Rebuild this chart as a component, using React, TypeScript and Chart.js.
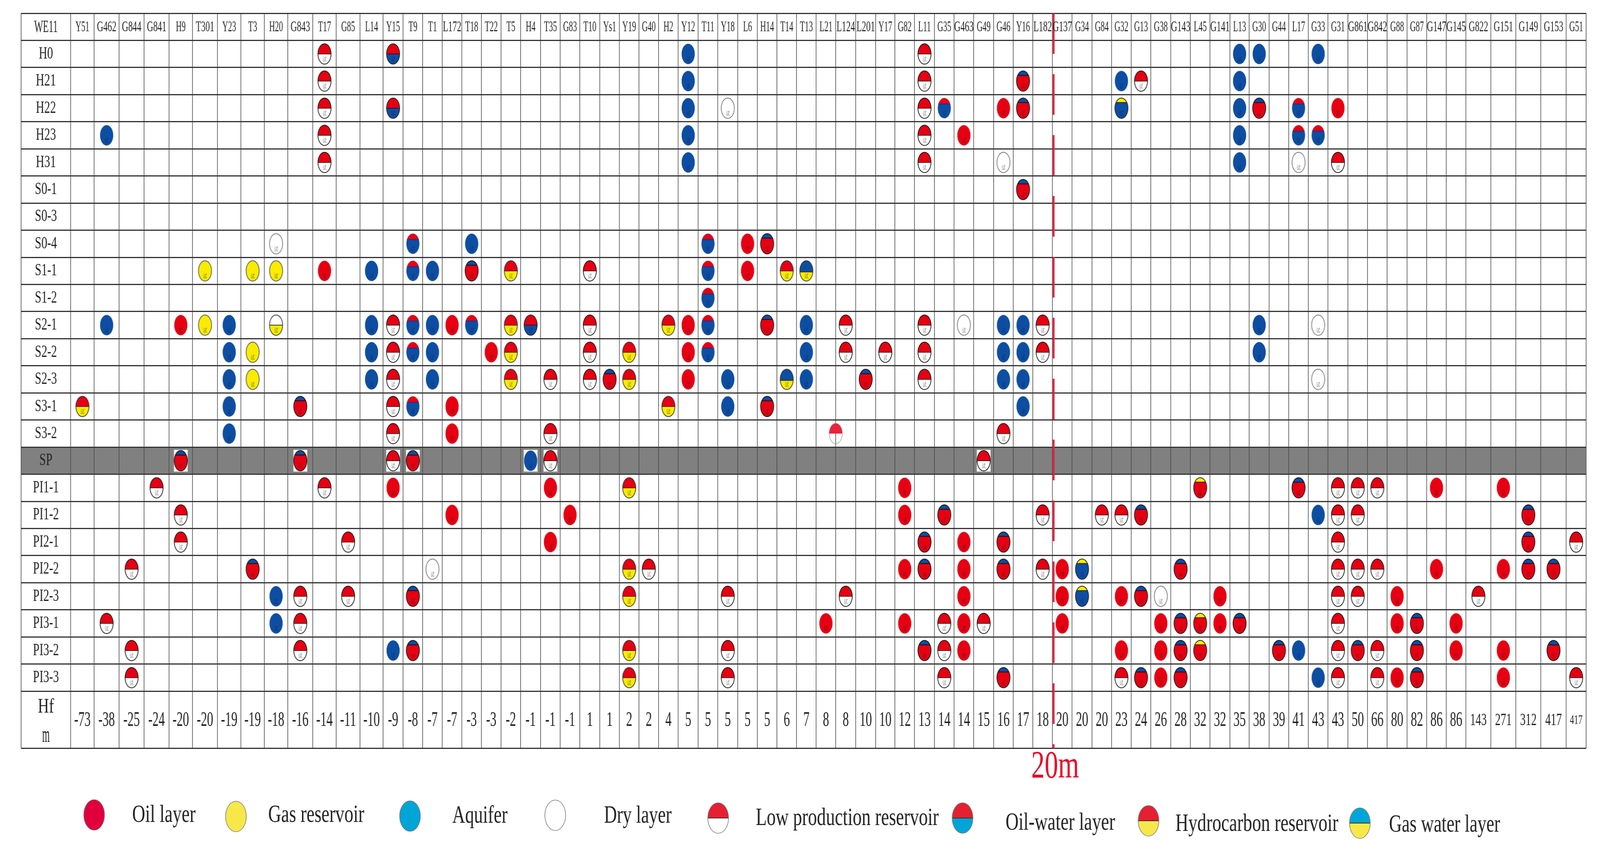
import { useEffect, useRef } from "react"
import { Chart, registerables } from "chart.js"

Chart.register(...registerables)

// table headers
const wells = [
  "Y51", "G462", "G844", "G841", "H9", "T301", "Y23", "T3", "H20", "G843", "T17", "G85", "L14", "Y15", "T9", "T1",
  "L172", "T18", "T22", "T5", "H4", "T35", "G83", "T10", "Ys1", "Y19", "G40", "H2", "Y12", "T11", "Y18", "L6", "H14",
  "T14", "T13", "L21", "L124", "L201", "Y17", "G82", "L11", "G35", "G463", "G49", "G46", "Y16", "L182", "G137", "G34",
  "G84", "G32", "G13", "G38", "G143", "L45", "G141", "L13", "G30", "G44", "L17", "G33", "G31", "G861", "G842", "G88",
  "G87", "G147", "G145", "G822", "G151", "G149", "G153", "G51",
]
const layers = [
  "H0", "H21", "H22", "H23", "H31", "S0-1", "S0-3", "S0-4", "S1-1", "S1-2", "S2-1", "S2-2", "S2-3", "S3-1", "S3-2",
  "SP", "PI1-1", "PI1-2", "PI2-1", "PI2-2", "PI2-3", "PI3-1", "PI3-2", "PI3-3",
]
const hfValues = [
  -73, -38, -25, -24, -20, -20, -19, -19, -18, -16, -14, -11, -10, -9, -8, -7, -7, -3, -3, -2, -1, -1, -1, 1, 1, 2, 2, 4,
  5, 5, 5, 5, 5, 6, 7, 8, 8, 10, 10, 12, 13, 14, 14, 15, 16, 17, 18, 20, 20, 20, 23, 24, 26, 28, 32, 32, 35, 38, 39, 41,
  43, 43, 50, 66, 80, 82, 86, 86, 143, 271, 312, 417, 417,
]

// one array per symbol: [layer, wells in that layer]
const oilLayer = [
  ["H22", "G46 G31"], ["H23", "G463"], ["S0-4", "L6"], ["S1-1", "T17 L6"], ["S2-1", "H9 L172 Y12"], ["S2-2", "T22 Y12"],
  ["S2-3", "Y12"], ["S3-1", "L172"], ["S3-2", "L172"], ["PI1-1", "Y15 T35 G82 G147 G151"], ["PI1-2", "L172 G83 G82"],
  ["PI2-1", "T35 G463"], ["PI2-2", "G82 G463 G137 G147 G151"], ["PI2-3", "G463 G137 G32 G141 G88"],
  ["PI3-1", "L21 G82 G463 G137 G38 G141 G88 G145"], ["PI3-2", "G463 G32 G38 G145 G151"], ["PI3-3", "G38 G88 G151"],
]
const gasReservoir = [["S1-1", "T301 T3 H20"], ["S2-1", "T301"], ["S2-2", "T3"], ["S2-3", "T3"]]
const aquifer = [
  ["H0", "Y12 L13 G30 G33"], ["H21", "Y12 G32 L13"], ["H22", "Y12 L13"], ["H23", "G462 Y12 L13"], ["H31", "Y12 L13"],
  ["S0-4", "T18"], ["S1-1", "L14 T1"], ["S2-1", "G462 Y23 L14 T1 T13 G46 Y16 G30"], ["S2-2", "Y23 L14 T1 T13 G46 Y16 G30"],
  ["S2-3", "Y23 L14 T1 Y18 T13 G46 Y16"], ["S3-1", "Y23 Y18 Y16"], ["S3-2", "Y23"], ["SP", "H4"], ["PI1-2", "G33"],
  ["PI2-3", "H20"], ["PI3-1", "H20"], ["PI3-2", "Y15 L17"], ["PI3-3", "G33"],
]
const dryLayer = [
  ["H22", "Y18"], ["H31", "G46 L17"], ["S0-4", "H20"], ["S2-1", "G463 G33"], ["S2-3", "G33"], ["PI2-2", "T1"], ["PI2-3", "G38"],
]
const lowProduction = [
  ["H0", "T17 L11"], ["H21", "T17 L11 G13"], ["H22", "T17 L11"], ["H23", "T17 L11"], ["H31", "T17 L11 G31"], ["S1-1", "T10"],
  ["S2-1", "Y15 T10 L124 L11 L182"], ["S2-2", "Y15 T10 L124 Y17 L11 L182"], ["S2-3", "Y15 T35 T10 L11"], ["S3-1", "Y15"],
  ["S3-2", "Y15 T35 G46"], ["SP", "Y15 T35 G49"], ["PI1-1", "G841 T17 G31 G861 G842"], ["PI1-2", "H9 L182 G84 G32 G31 G861"],
  ["PI2-1", "H9 G85 G31 G51"], ["PI2-2", "G844 G40 L182 G31 G861 G842"], ["PI2-3", "G843 G85 Y18 L124 G31 G861 G822"],
  ["PI3-1", "G462 G843 G35 G49 G31"], ["PI3-2", "G844 G843 Y18 G35 G31 G842"], ["PI3-3", "G844 Y18 G35 G32 G31 G842 G51"],
]
const oilWaterLayer = [["H0", "Y15"], ["H22", "Y15"], ["S2-1", "H4"]]
const oilCapWater = [
  ["H22", "G35 L17"], ["H23", "L17 G33"], ["S0-4", "T9 T11"], ["S1-1", "T9 T11"], ["S1-2", "T11"], ["S2-1", "T9 T18 T11"],
  ["S2-2", "T9 T11"], ["S3-1", "T9"],
]
const hydrocarbonReservoir = [
  ["S1-1", "T5 T14"], ["S2-1", "T5 H2"], ["S2-2", "T5 Y19"], ["S2-3", "T5 Y19"], ["S3-1", "Y51 H2"], ["PI1-1", "Y19"],
  ["PI2-2", "Y19"], ["PI2-3", "Y19"], ["PI3-2", "Y19"], ["PI3-3", "Y19"],
]
const gasWaterLayer = [["S1-1", "T13"], ["S2-3", "T14"]]
const waterCapOil = [
  ["H21", "Y16"], ["H22", "Y16 G30"], ["S0-1", "Y16"], ["S0-4", "H14"], ["S1-1", "T18"], ["S2-1", "H14"], ["S2-3", "Ys1 L201"],
  ["S3-1", "G843 H14"], ["SP", "H9 G843 T9"], ["PI1-1", "L17"], ["PI1-2", "G35 G13 G149"], ["PI2-1", "L11 G46 G149"],
  ["PI2-2", "T3 L11 G46 G143 G149 G153"], ["PI2-3", "T9 G13"], ["PI3-1", "G143 L13 G87"],
  ["PI3-2", "T9 L11 G143 G44 G861 G87 G153"], ["PI3-3", "G46 G13 G143 G87"],
]
const gasCapWater = [["H22", "G32"], ["PI2-2", "G34"], ["PI2-3", "G34"]]
const gasCapOil = [["PI1-1", "L45"], ["PI3-1", "L45"], ["PI3-2", "L45"]]
const dryOverGas = [["S2-1", "H20"]]
const lowOnBoundary = [["S3-2", "L124"]] // sits on the left edge of the well column

const legendLabels = [
  "Oil layer", "Gas reservoir", "Aquifer", "Dry layer", "Low production reservoir", "Oil-water layer",
  "Hydrocarbon reservoir", "Gas water layer",
]
const cutoffWell = "G137"
const cutoffLabel = "20m"

// layout, in canvas pixels
const WIDTH = 4164
const HEIGHT = 2182
const labelColumn = 129
const columnWidths = [
  61, 65, 65, 65, 61, 65, 61, 61, 61, 65, 61, 62, 60, 52, 51, 51, 51, 51, 51, 51, 52, 51, 51, 52, 51, 51, 51, 51, 52, 51,
  52, 51, 51, 51, 51, 51, 52, 52, 50, 51, 52, 51, 51, 52, 51, 51, 51, 51, 52, 51, 51, 51, 52, 51, 51, 52, 50, 52, 51, 51,
  51, 52, 51, 51, 52, 51, 51, 51, 65, 65, 65, 66, 52,
]
const footerRows = 2.1
const columnEdges = columnWidths.reduce((edges, w) => [...edges, edges[edges.length - 1] + w], [0])
const columnCenter = (well) => {
  const i = wells.indexOf(well)
  return (columnEdges[i] + columnEdges[i + 1]) / 2
}
const rowCenter = (layer) => layers.indexOf(layer) + 0.5

const legendLayout = [
  { mark: 245, markY: 2087, left: 344, width: 165, y: 2088 },
  { mark: 614, markY: 2091, left: 698, width: 250, y: 2088 },
  { mark: 1067, markY: 2090, left: 1177, width: 144, y: 2090 },
  { mark: 1445, markY: 2088, left: 1572, width: 176, y: 2090 },
  { mark: 1869, markY: 2095, left: 1967, width: 476, y: 2096 },
  { mark: 2505, markY: 2095, left: 2617, width: 285, y: 2108 },
  { mark: 2989, markY: 2102, left: 3059, width: 424, y: 2111 },
  { mark: 3539, markY: 2108, left: 3615, width: 289, y: 2113 },
]

const RED = "#e60012"
const BLUE = "#0d4ea3"
const YELLOW = "#f9ec00"
const WHITE = "#ffffff"
const marks = {
  oil: { top: RED, bottom: RED, split: 1 },
  gas: { top: YELLOW, bottom: YELLOW, split: 1, outline: "#555" },
  water: { top: BLUE, bottom: BLUE, split: 1 },
  dry: { top: WHITE, bottom: WHITE, split: 1, outline: "#777" },
  low: { top: RED, bottom: WHITE, split: 0.5, outline: "#111", divider: "#5a1010" },
  oilWater: { top: RED, bottom: BLUE, split: 0.5, outline: "#222", divider: "#301040" },
  oilCapWater: { top: RED, bottom: BLUE, split: 0.3, divider: "#1c2f90" },
  hydro: { top: RED, bottom: YELLOW, split: 0.5, outline: "#333", divider: "#5a1010" },
  gasWater: { top: BLUE, bottom: YELLOW, split: 0.55, outline: "#333", divider: "#223" },
  waterCapOil: { top: BLUE, bottom: RED, split: 0.22, outline: "#111", divider: "#111" },
  gasCapWater: { top: YELLOW, bottom: BLUE, split: 0.22, outline: "#222", divider: "#222" },
  gasCapOil: { top: YELLOW, bottom: RED, split: 0.22, outline: "#222", divider: "#400" },
  dryOverGas: { top: WHITE, bottom: YELLOW, split: 0.5, outline: "#333", divider: "#332" },
}
const legendMarks = [
  { top: "#e2003c", bottom: "#e2003c", split: 1 },
  { top: "#f7e84a", bottom: "#f7e84a", split: 1 },
  { top: "#00a5d8", bottom: "#00a5d8", split: 1 },
  { top: WHITE, bottom: WHITE, split: 1 },
  { top: "#e52032", bottom: WHITE, split: 0.5, divider: "#333" },
  { top: "#e52032", bottom: "#00a5d8", split: 0.5, divider: "#333" },
  { top: "#e52032", bottom: "#f7e84a", split: 0.5, divider: "#333" },
  { top: "#00a5d8", bottom: "#f7e84a", split: 0.5, divider: "#333" },
]

const seriesList = [
  { label: "Oil layer", cells: oilLayer, mark: "oil" },
  { label: "Gas reservoir", cells: gasReservoir, mark: "gas" },
  { label: "Aquifer", cells: aquifer, mark: "water" },
  { label: "Dry layer", cells: dryLayer, mark: "dry" },
  { label: "Low production reservoir", cells: lowProduction, mark: "low" },
  { label: "Oil-water layer", cells: oilWaterLayer, mark: "oilWater" },
  { label: "Oil-water layer (thin oil)", cells: oilCapWater, mark: "oilCapWater" },
  { label: "Hydrocarbon reservoir", cells: hydrocarbonReservoir, mark: "hydro" },
  { label: "Gas water layer", cells: gasWaterLayer, mark: "gasWater" },
  { label: "Water over oil", cells: waterCapOil, mark: "waterCapOil" },
  { label: "Gas over water", cells: gasCapWater, mark: "gasCapWater" },
  { label: "Gas over oil", cells: gasCapOil, mark: "gasCapOil" },
  { label: "Dry over gas", cells: dryOverGas, mark: "dryOverGas" },
]

function paintEllipse(ctx, cx, cy, rx, ry, spec, glyph) {
  ctx.save()
  ctx.beginPath()
  ctx.ellipse(cx, cy, rx, ry, 0, 0, Math.PI * 2)
  ctx.save()
  ctx.clip()
  const splitY = cy - ry + 2 * ry * spec.split
  ctx.fillStyle = spec.bottom
  ctx.fillRect(cx - rx, cy - ry, 2 * rx, 2 * ry)
  ctx.fillStyle = spec.top
  ctx.fillRect(cx - rx, cy - ry, 2 * rx, splitY - cy + ry)
  if (spec.divider) {
    ctx.fillStyle = spec.divider
    ctx.fillRect(cx - rx, splitY - 1, 2 * rx, 2)
  }
  if (glyph) {
    ctx.translate(cx, cy + ry * 0.48)
    ctx.scale(0.8, 1.05)
    ctx.fillStyle = "rgba(30,30,40,0.55)"
    ctx.font = '13px "Noto Sans CJK SC"'
    ctx.textAlign = "center"
    ctx.textBaseline = "middle"
    ctx.fillText(glyph, 0, 0)
  }
  ctx.restore()
  if (spec.outline) {
    ctx.strokeStyle = spec.outline
    ctx.lineWidth = 1.8
    ctx.stroke()
  }
  ctx.restore()
}

function makeSprite(spec, boxed) {
  const c = document.createElement("canvas")
  c.width = 40
  c.height = 60
  const ctx = c.getContext("2d")
  if (boxed) {
    ctx.fillStyle = "#f4f4f4"
    ctx.fillRect(2, 2, 36, 56)
  }
  paintEllipse(ctx, 20, 30, 17, 26, spec, "试")
  return c
}

function paleSprite() {
  const c = document.createElement("canvas")
  c.width = 40
  c.height = 60
  const ctx = c.getContext("2d")
  ctx.beginPath()
  ctx.ellipse(20, 30, 17, 26, 0, 0, Math.PI * 2)
  ctx.strokeStyle = "#999"
  ctx.lineWidth = 1.4
  ctx.stroke()
  ctx.save()
  ctx.clip()
  ctx.fillStyle = "#e8233c"
  ctx.fillRect(0, 0, 40, 30)
  ctx.restore()
  return c
}

function squeezedText(ctx, text, x, y, size, scaleX) {
  ctx.save()
  ctx.translate(x, y)
  ctx.scale(scaleX, 1)
  ctx.font = `${size}px "Liberation Serif"`
  ctx.textAlign = "center"
  ctx.textBaseline = "middle"
  ctx.fillText(text, 0, 0)
  ctx.restore()
}

function fittedText(ctx, text, left, y, size, width) {
  ctx.save()
  ctx.font = `${size}px "Liberation Serif"`
  const natural = ctx.measureText(text).width
  ctx.translate(left, y)
  ctx.scale(width / natural, 1)
  ctx.textAlign = "left"
  ctx.textBaseline = "middle"
  ctx.fillText(text, 0, 0)
  ctx.restore()
}

const bandPlugin = {
  id: "spBand",
  beforeDraw(chart) {
    const { ctx, chartArea, scales } = chart
    const row = layers.indexOf("SP")
    const top = scales.y.getPixelForValue(row)
    const bottom = scales.y.getPixelForValue(row + 1)
    ctx.save()
    ctx.fillStyle = "#808080"
    ctx.fillRect(chartArea.left, top, chartArea.width, bottom - top)
    ctx.restore()
  },
}

const tableTextPlugin = {
  id: "tableText",
  afterDraw(chart) {
    const { ctx, scales } = chart
    const xs = scales.x
    const ys = scales.y
    ctx.save()
    ctx.fillStyle = "#222"

    // header row
    const headerY = ys.getPixelForValue(-0.48)
    squeezedText(ctx, "WE11", xs.getPixelForValue(-labelColumn / 2), headerY, 45, 0.54)
    wells.forEach((well) => {
      squeezedText(ctx, well, xs.getPixelForValue(columnCenter(well)), headerY, 38, well.length > 3 ? 0.6 : 0.55)
    })

    // layer names
    layers.forEach((layer) => {
      squeezedText(ctx, layer, xs.getPixelForValue(-labelColumn / 2), ys.getPixelForValue(rowCenter(layer)), 44, 0.69)
    })

    // Hf row
    const hfRow = layers.length
    squeezedText(ctx, "Hf", xs.getPixelForValue(-labelColumn / 2), ys.getPixelForValue(hfRow + 0.59), 52, 0.77)
    squeezedText(ctx, "m", xs.getPixelForValue(-labelColumn / 2), ys.getPixelForValue(hfRow + 1.65), 60, 0.42)
    hfValues.forEach((value, i) => {
      const center = (columnEdges[i] + columnEdges[i + 1]) / 2
      const wide = Math.abs(value) >= 100
      const size = i === hfValues.length - 1 ? 34 : wide ? 44 : 52
      squeezedText(ctx, String(value), xs.getPixelForValue(center), ys.getPixelForValue(hfRow + 1.08), size, wide ? 0.65 : 0.62)
    })

    // cutoff label under the table
    ctx.fillStyle = "#e60a28"
    squeezedText(ctx, cutoffLabel, xs.getPixelForValue(columnEdges[wells.indexOf(cutoffWell)]) + 7, 1965, 100, 0.7)

    // legend
    legendLabels.forEach((label, i) => {
      const item = legendLayout[i]
      const spec = legendMarks[i]
      paintEllipse(ctx, item.mark, item.markY, 27, 39, spec)
      ctx.beginPath()
      ctx.ellipse(item.mark, item.markY, 27, 39, 0, 0, Math.PI * 2)
      ctx.strokeStyle = "#777"
      ctx.lineWidth = 1.5
      ctx.stroke()
      ctx.fillStyle = "#222"
      fittedText(ctx, label, item.left, item.y, 64, item.width)
    })
    ctx.restore()
  },
}

export default function App() {
  const canvasRef = useRef<HTMLCanvasElement | null>(null)

  useEffect(() => {
    document.body.style.margin = "0"
    document.documentElement.style.overflow = "hidden"
    const ctx = canvasRef.current?.getContext("2d")
    if (!ctx) return

    const datasets: any[] = seriesList.map(({ label, cells, mark }) => {
      const data = cells.flatMap(([layer, names]) =>
        names.split(" ").map((well) => ({ x: columnCenter(well), y: rowCenter(layer), layer })),
      )
      const plain = makeSprite(marks[mark], false)
      const boxed = makeSprite(marks[mark], true)
      return {
        type: "scatter",
        label,
        data,
        pointRadius: 10,
        pointStyle: data.map((p) => (p.layer === "SP" ? boxed : plain)),
      }
    })

    datasets.push({
      type: "scatter",
      label: "Low production reservoir (boundary)",
      data: lowOnBoundary.map(([layer, well]) => ({ x: columnEdges[wells.indexOf(well)], y: rowCenter(layer) })),
      pointRadius: 10,
      pointStyle: paleSprite(),
    })

    const cutoffX = columnEdges[wells.indexOf(cutoffWell)] + 3
    datasets.push({
      type: "line",
      label: cutoffLabel,
      data: [
        { x: cutoffX, y: -1 },
        { x: cutoffX, y: layers.length + footerRows },
      ],
      borderColor: "#e8203c",
      borderWidth: 5,
      borderDash: [104, 52],
      pointRadius: 0,
      clip: false,
      order: -1,
    })

    const chart = new Chart(ctx, {
      type: "scatter",
      data: { datasets },
      plugins: [bandPlugin, tableTextPlugin],
      options: {
        animation: false,
        responsive: false,
        devicePixelRatio: 1,
        events: [],
        layout: { padding: { left: 55, right: 36, top: 34, bottom: 266 } },
        plugins: { legend: { display: false }, tooltip: { enabled: false } },
        scales: {
          x: {
            type: "linear",
            min: -labelColumn,
            max: columnEdges[columnEdges.length - 1],
            afterBuildTicks: (axis) => {
              axis.ticks = [-labelColumn, ...columnEdges].map((value) => ({ value }))
            },
            ticks: { display: false },
            border: { display: false },
            grid: { color: "#4a4a4a", lineWidth: 1.6, drawTicks: false },
          },
          y: {
            type: "linear",
            reverse: true,
            min: -1,
            max: layers.length + footerRows,
            afterBuildTicks: (axis) => {
              const rows = [-1, ...layers.map((_, i) => i), layers.length, layers.length + footerRows]
              axis.ticks = rows.map((value) => ({ value }))
            },
            ticks: { display: false },
            border: { display: false },
            grid: { color: "#333333", lineWidth: 3, drawTicks: false },
          },
        },
      },
    } as any)

    return () => chart.destroy()
  }, [])

  // the window opens 4096 wide rather than 4164, so the 4164x2182 bitmap is fitted to it with css
  return <canvas ref={canvasRef} width={WIDTH} height={HEIGHT} style={{ display: "block", width: "100vw", height: "100vh" }} />
}
